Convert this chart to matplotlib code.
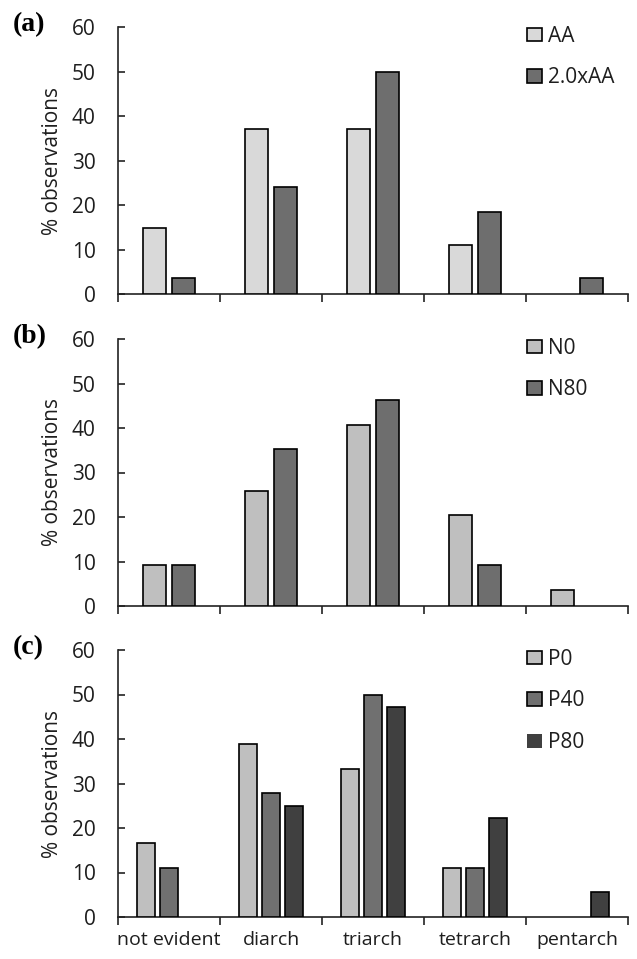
import matplotlib
matplotlib.use("Agg")
import matplotlib.pyplot as plt
import numpy as np

categories = ["not evident", "diarch", "triarch", "tetrarch", "pentarch"]

# panel (a)
a_labels = ["AA", "2.0xAA"]
aa = [14.8, 37.0, 37.0, 11.1, 0.0]
aa2 = [3.7, 24.1, 50.0, 18.5, 3.7]

# panel (b)
b_labels = ["N0", "N80"]
n0 = [9.3, 25.9, 40.7, 20.4, 3.7]
n80 = [9.3, 35.2, 46.3, 9.3, 0.0]

# panel (c)
c_labels = ["P0", "P40", "P80"]
p0 = [16.7, 38.9, 33.3, 11.1, 0.0]
p40 = [11.1, 27.8, 50.0, 11.1, 0.0]
p80 = [0.0, 25.0, 47.2, 22.2, 5.6]

yticks = [0, 10, 20, 30, 40, 50, 60]

FONT = "Open Sans"
plt.rcParams["font.family"] = [FONT, "DejaVu Sans"]
TXT = "#1e1e1e"

fig = plt.figure(figsize=(6.37, 9.59), dpi=100)
W, H = 637.0, 959.0
left, right = 118, 628
panels_px = [(27, 294), (339, 606), (650, 917)]

series_sets = [
    (a_labels, [aa, aa2], ["#d9d9d9", "#6e6e6e"], 0.225, 0.29, "(a)"),
    (b_labels, [n0, n80], ["#bfbfbf", "#6e6e6e"], 0.225, 0.29, "(b)"),
    (c_labels, [p0, p40, p80], ["#bfbfbf", "#707070", "#404040"], 0.178, 0.222, "(c)"),
]

x = np.arange(len(categories))
for i, ((top, bot), (labels, data, colors, bw, off, tag)) in enumerate(zip(panels_px, series_sets)):
    ax = fig.add_axes([left / W, 1 - bot / H, (right - left) / W, (bot - top) / H])
    n = len(data)
    for j, (vals, lab, col) in enumerate(zip(data, labels, colors)):
        pos = x + (j - (n - 1) / 2) * off
        vals = np.asarray(vals, dtype=float)
        lws = [1.2 if v > 0 else 0.0 for v in vals]
        ax.bar(pos, vals, width=bw, color=col, edgecolor="black", linewidth=lws, label=lab, zorder=3)
    ax.set_xlim(-0.5, len(categories) - 0.5)
    ax.set_ylim(0, 60)
    ax.set_yticks(yticks)
    ax.set_yticklabels([str(t) for t in yticks], fontsize=15, color=TXT)
    ax.set_xticks(np.arange(-0.5, len(categories), 1.0))
    ax.set_xticklabels([])
    ax.set_xticks(x, minor=True)
    if i == 2:
        ax.set_xticklabels(categories, minor=True, fontsize=14, color=TXT)
    ax.tick_params(axis="x", which="minor", length=0, pad=10)
    ax.tick_params(axis="x", which="major", direction="out", length=6, width=1.2, color="#222222")
    ax.tick_params(axis="y", direction="in", length=5, width=1.2, color="#222222", pad=16)
    for s in ["top", "right"]:
        ax.spines[s].set_visible(False)
    for s in ["left", "bottom"]:
        ax.spines[s].set_linewidth(1.2)
        ax.spines[s].set_color("#222222")
    ax.set_ylabel("% observations", fontsize=15, color=TXT)
    ax.yaxis.set_label_coords(-0.108, 0.5)
    leg = ax.legend(loc="upper left", bbox_to_anchor=(0.802, 1.005), frameon=False,
                    fontsize=15, handlelength=0.72, handleheight=0.63,
                    handletextpad=0.28, labelspacing=1.0, borderpad=0, borderaxespad=0)
    for t in leg.get_texts():
        t.set_color(TXT)
    fig.text(13 / W, 1 - (top - 15) / H, tag, fontsize=20, fontweight="bold",
             family=["Liberation Serif", "DejaVu Serif"], va="top", ha="left")

fig.savefig("out.png", dpi=100)
